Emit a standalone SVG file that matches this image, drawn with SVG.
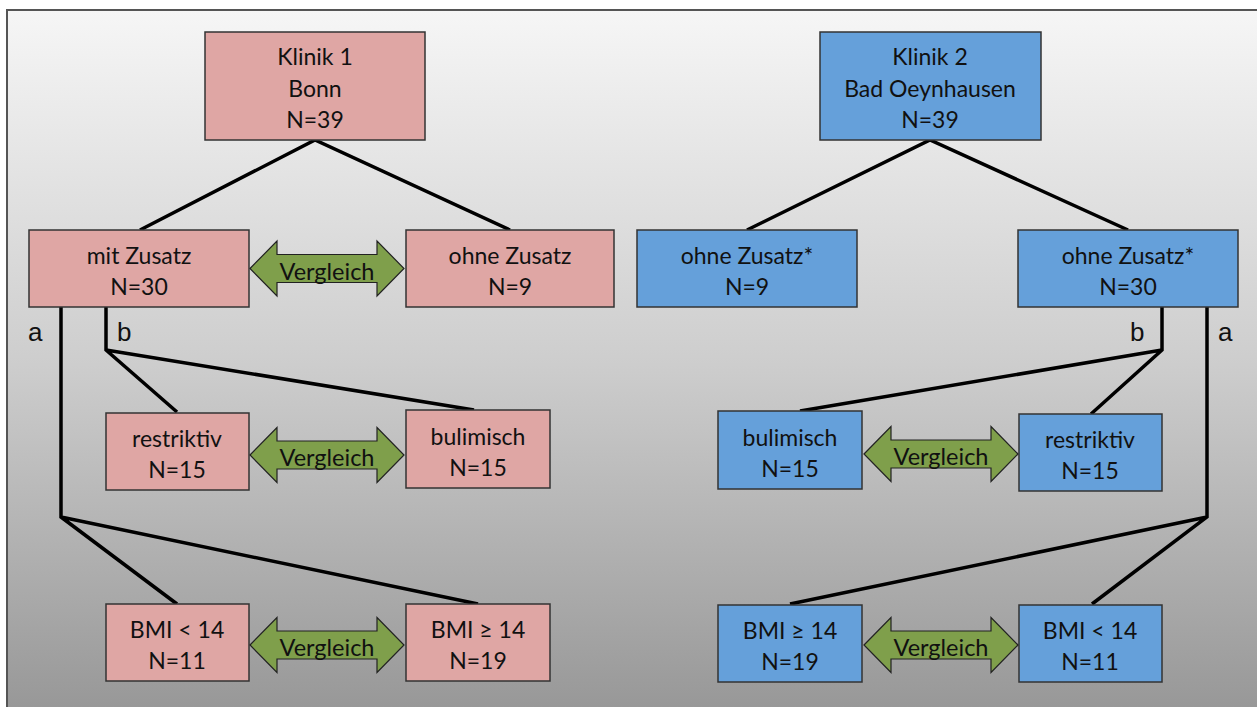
<svg xmlns="http://www.w3.org/2000/svg" width="1257" height="707" viewBox="0 0 1257 707">
<defs>
<linearGradient id="bg" x1="0" y1="0" x2="0" y2="1">
<stop offset="0" stop-color="#f6f6f6"/>
<stop offset="0.5" stop-color="#cdcdcd"/>
<stop offset="1" stop-color="#969696"/>
</linearGradient>
<path id="arr" d="M0,0 L27,-27.5 L27,-14 L127,-14 L127,-27.5 L154,0 L127,27.5 L127,14 L27,14 L27,27.5 Z"/>
</defs>
<style>
.pink{fill:#dfa6a4;stroke:#333;stroke-width:1.5}
.blue{fill:#65a0da;stroke:#333;stroke-width:1.5}
.t{font-family:Lato,"Liberation Sans",sans-serif;font-size:23px;fill:#111;text-anchor:middle}
.v{font-family:Lato,"Liberation Sans",sans-serif;font-size:23.5px;fill:#111;text-anchor:middle}
.lbl{font-family:"Liberation Sans",Arial,sans-serif;font-size:26px;fill:#111}
.arrow{fill:#7f9f4b;stroke:#222;stroke-width:1.2}
.c{stroke:#000;stroke-width:3.5;fill:none;stroke-linejoin:miter}
</style>
<rect x="0" y="0" width="1257" height="707" fill="#ffffff"/>
<rect x="7" y="10" width="1260" height="710" fill="url(#bg)" stroke="#555" stroke-width="2"/>

<g id="connectors">
<path class="c" d="M140,230 L315,140 L510,230"/>
<path class="c" d="M747,230 L930,140 L1128,230"/>
<path class="c" d="M106,307 L106,350 L177,412 M106,350 L474,410"/>
<path class="c" d="M61,307 L61,517 L177,604 M61,517 L478,604"/>
<path class="c" d="M1162,307 L1162,350 L1091,414 M1162,350 L800,411"/>
<path class="c" d="M1207,307 L1207,517 L1092,604 M1207,517 L790,604"/>
</g>

<g id="labels">
<text class="lbl" x="28" y="341">a</text>
<text class="lbl" x="117" y="341">b</text>
<text class="lbl" x="1130" y="341">b</text>
<text class="lbl" x="1218" y="341">a</text>
</g>

<g id="klinik1"><rect class="pink" x="205" y="32" width="220" height="108"/>
<text class="t" x="315" y="65">Klinik 1</text><text class="t" x="315" y="97">Bonn</text><text class="t" x="315" y="128">N=39</text></g>
<g id="klinik2"><rect class="blue" x="820" y="32" width="221" height="108"/>
<text class="t" x="930" y="65">Klinik 2</text><text class="t" x="930" y="97">Bad Oeynhausen</text><text class="t" x="930" y="128">N=39</text></g>

<g id="mitZusatz"><rect class="pink" x="29" y="230" width="220" height="77"/>
<text class="t" x="139" y="264">mit Zusatz</text><text class="t" x="139" y="295">N=30</text></g>
<g id="ohneZusatzL"><rect class="pink" x="406" y="230" width="208" height="77"/>
<text class="t" x="510" y="264">ohne Zusatz</text><text class="t" x="510" y="295">N=9</text></g>
<g id="ohneZusatzR1"><rect class="blue" x="637" y="230" width="220" height="77"/>
<text class="t" x="747" y="264">ohne Zusatz*</text><text class="t" x="747" y="295">N=9</text></g>
<g id="ohneZusatzR2"><rect class="blue" x="1018" y="230" width="220" height="77"/>
<text class="t" x="1128" y="264">ohne Zusatz*</text><text class="t" x="1128" y="295">N=30</text></g>

<g id="restriktivL"><rect class="pink" x="106" y="413" width="143" height="77"/>
<text class="t" x="177" y="447">restriktiv</text><text class="t" x="177" y="478">N=15</text></g>
<g id="bulimischL"><rect class="pink" x="406" y="410" width="144" height="78"/>
<text class="t" x="478" y="445">bulimisch</text><text class="t" x="478" y="476">N=15</text></g>
<g id="bulimischR"><rect class="blue" x="718" y="411" width="144" height="78"/>
<text class="t" x="790" y="446">bulimisch</text><text class="t" x="790" y="477">N=15</text></g>
<g id="restriktivR"><rect class="blue" x="1019" y="414" width="143" height="77"/>
<text class="t" x="1090" y="448">restriktiv</text><text class="t" x="1090" y="479">N=15</text></g>

<g id="bmiL1"><rect class="pink" x="106" y="604" width="143" height="77"/>
<text class="t" x="177" y="638">BMI &lt; 14</text><text class="t" x="177" y="669">N=11</text></g>
<g id="bmiL2"><rect class="pink" x="406" y="604" width="144" height="77"/>
<text class="t" x="478" y="638">BMI ≥ 14</text><text class="t" x="478" y="669">N=19</text></g>
<g id="bmiR1"><rect class="blue" x="718" y="605" width="144" height="77"/>
<text class="t" x="790" y="639">BMI ≥ 14</text><text class="t" x="790" y="670">N=19</text></g>
<g id="bmiR2"><rect class="blue" x="1019" y="605" width="143" height="77"/>
<text class="t" x="1090" y="639">BMI &lt; 14</text><text class="t" x="1090" y="670">N=11</text></g>

<g id="vergleich1"><use href="#arr" class="arrow" x="250" y="268.5"/><text class="v" x="327" y="280">Vergleich</text></g>
<g id="vergleich2"><use href="#arr" class="arrow" x="250" y="455"/><text class="v" x="327" y="466">Vergleich</text></g>
<g id="vergleich3"><use href="#arr" class="arrow" x="250" y="645"/><text class="v" x="327" y="656">Vergleich</text></g>
<g id="vergleich4"><use href="#arr" class="arrow" x="864" y="454"/><text class="v" x="941" y="465">Vergleich</text></g>
<g id="vergleich5"><use href="#arr" class="arrow" x="864" y="645"/><text class="v" x="941" y="656">Vergleich</text></g>
</svg>
